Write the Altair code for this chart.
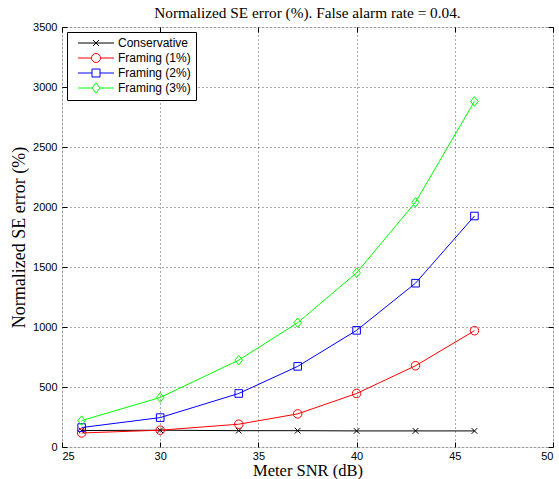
import altair as alt
import pandas as pd

snr = [26, 30, 34, 37, 40, 43, 46]
series_names = ["Conservative", "Framing (1%)", "Framing (2%)", "Framing (3%)"]
conservative = [137, 140, 136, 136, 134, 134, 134]
framing1 = [117, 140, 190, 276, 446, 677, 969]
framing2 = [162, 245, 446, 672, 972, 1365, 1925]
framing3 = [220, 413, 724, 1036, 1452, 2040, 2880]
colors = ["#000000", "#ff0000", "#0000ff", "#00ff00"]

rows = []
for name, vals in zip(series_names, [conservative, framing1, framing2, framing3]):
    for x, v in zip(snr, vals):
        rows.append({"snr": x, "err": v, "series": name})
df = pd.DataFrame(rows)

# marker paths in Vega's [-1, 1] unit box (scaled by sqrt(size)/2)
m_x = "M-0.6,-0.6L0.6,0.6M-0.6,0.6L0.6,-0.6"
m_circle = "M0.9,0A0.9,0.9,0,1,1,-0.9,0A0.9,0.9,0,1,1,0.9,0Z"
m_square = "M-0.8,-0.8H0.8V0.8H-0.8Z"
m_diamond = "M0,-1L0.8,0L0,1L-0.8,0Z"
markers = [m_x, m_circle, m_square, m_diamond]
legend_markers = [
    "M-3.6,0H3.6" + m_x,
    "M-3.6,0H-0.9M0.9,0H3.6" + m_circle,
    "M-3.6,0H-0.8M0.8,0H3.6" + m_square,
    "M-3.6,0H-0.8M0.8,0H3.6" + m_diamond,
]

xscale = alt.Scale(domain=[25, 50], nice=False, zero=False)
yscale = alt.Scale(domain=[0, 3500], nice=False, zero=True)
cscale = alt.Scale(domain=series_names, range=colors)

serif = "Liberation Serif"
sans = "Liberation Sans"

base = alt.Chart(df)

main_x_axis = alt.Axis(
    orient="bottom", values=[25, 30, 35, 40, 45, 50], ticks=False, labelPadding=3,
    labelFont=sans, labelFontSize=11, labelColor="black", domain=False, format="d",
    grid=True, gridColor="#555555", gridDash=[1, 3], gridWidth=1,
    title="Meter SNR (dB)", titleFont=serif, titleFontSize=16.5, titleFontWeight="normal",
    titleColor="black", titlePadding=1,
)
main_y_axis = alt.Axis(
    orient="left", values=list(range(0, 3501, 500)), ticks=False, labelPadding=5,
    labelFont=sans, labelFontSize=11, labelColor="black", domain=False, format="d",
    grid=True, gridColor="#555555", gridDash=[1, 3], gridWidth=1,
    title="Normalized SE error (%)", titleFont=serif, titleFontSize=18,
    titleFontWeight="normal", titleColor="black", titlePadding=4,
)

lines = base.mark_line(strokeWidth=1).encode(
    x=alt.X("snr:Q", scale=xscale, axis=main_x_axis),
    y=alt.Y("err:Q", scale=yscale, axis=main_y_axis),
    color=alt.Color("series:N", scale=cscale, legend=None),
)

points = base.mark_point(filled=False, size=90, strokeWidth=1, opacity=1).encode(
    x=alt.X("snr:Q", scale=xscale, axis=None),
    y=alt.Y("err:Q", scale=yscale, axis=None),
    color=alt.Color("series:N", scale=cscale, legend=None),
    shape=alt.Shape("series:N", scale=alt.Scale(domain=series_names, range=markers), legend=None),
)


def tick_axis(orient, values):
    return alt.Axis(orient=orient, values=values, labels=False, domain=False, grid=False,
                    ticks=True, tickSize=5, tickColor="black", tickWidth=1, offset=-5,
                    title=None, minExtent=0, maxExtent=0)


xt = [25, 30, 35, 40, 45, 50]
yt = list(range(0, 3501, 500))

ticks_tr = base.mark_point(opacity=0).encode(
    x=alt.X("snr:Q", scale=xscale, axis=tick_axis("top", xt)),
    y=alt.Y("err:Q", scale=yscale, axis=tick_axis("right", yt)),
)
ticks_bl = base.mark_point(opacity=0).encode(
    x=alt.X("snr:Q", scale=xscale, axis=tick_axis("bottom", xt)),
    y=alt.Y("err:Q", scale=yscale, axis=tick_axis("left", yt)),
)

legend_layer = base.transform_filter("datum.err < -1").mark_point(
    filled=False, size=100, strokeWidth=1, opacity=1
).encode(
    x=alt.X("snr:Q", scale=xscale, axis=None),
    y=alt.Y("err:Q", scale=yscale, axis=None),
    color=alt.Color("series:N", scale=alt.Scale(domain=series_names, range=colors),
                    legend=alt.Legend(title=None)),
    shape=alt.Shape(
        "series:N",
        scale=alt.Scale(domain=series_names, range=legend_markers),
        legend=alt.Legend(
            title=None, orient="top-left", offset=5, strokeColor="black", fillColor="white",
            padding=5, cornerRadius=0, labelFont=sans, labelFontSize=12, labelColor="black",
            symbolSize=100, symbolStrokeWidth=1, symbolOffset=18, labelOffset=16,
            rowPadding=2, labelAlign="left",
        ),
    ),
)

chart = alt.layer(lines, points, ticks_tr, ticks_bl, legend_layer).resolve_scale(
    color="independent", shape="independent"
).resolve_axis(x="independent", y="independent").properties(
    width=491,
    height=420,
    padding={"left": 62, "top": 27, "right": 6, "bottom": 32},
    autosize=alt.AutoSizeParams(type="none"),
    title=alt.TitleParams(
        "Normalized SE error (%). False alarm rate = 0.04.",
        font=serif, fontSize=15.3, fontWeight="normal", color="black", offset=0, anchor="middle",
    ),
).configure_view(stroke="black", strokeWidth=1.2).configure(background="white")

chart.save("out.html", embed_options={"renderer": "svg", "actions": False})
